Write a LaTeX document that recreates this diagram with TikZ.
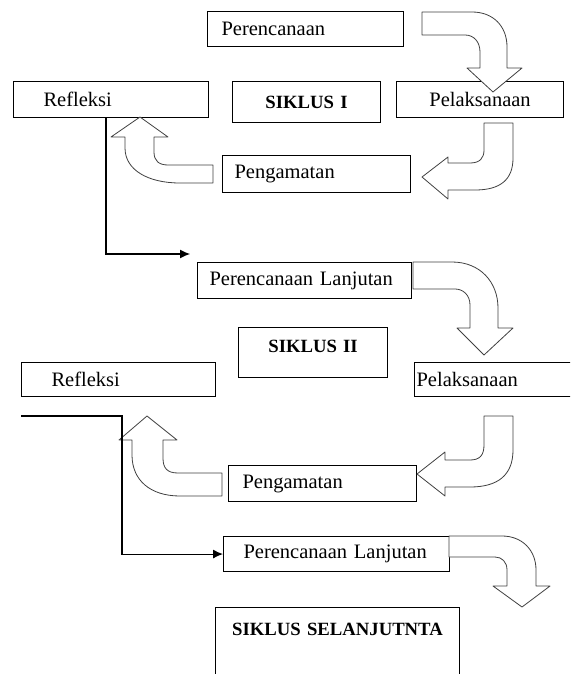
\documentclass[tikz,border=0pt]{standalone}
\usepackage{fontspec}
\setmainfont{Liberation Serif}
\usetikzlibrary{arrows.meta}

\begin{document}
\begin{tikzpicture}[
        x=1pt, y=-1pt, % one unit is one pixel, y runs down the page
        every node/.style={draw, fill=white, anchor=north west, inner ysep=0pt, align=left, font=\fontsize{20.5}{24}\selectfont},
        heading/.style={font=\fontsize{18.7}{22}\selectfont\bfseries, align=center, inner xsep=4pt},
        bend arrow/.style={draw=black!75, fill=white, line width=0.8pt, line join=round},
        line width=1.1pt,
        >={Latex[length=10pt, width=9pt]} % arrowhead style
      ]
      \clip (0,0) rectangle (570,674);

      % Nodes - siklus I
      \node (P1) [minimum width=196, minimum height=35, inner xsep=14pt, text width=168pt] at (207,11) {Perencanaan};
      \node (R1) [minimum width=195, minimum height=36, inner xsep=30pt, text width=135pt] at (13,81) {Refleksi};
      \node (S1) [heading, minimum width=148, minimum height=41, text width=140pt] at (232,81) {SIKLUS I};
      \node (A1) [minimum width=167, minimum height=36, inner xsep=4pt, text width=159pt, align=center] at (396,81) {Pelaksanaan};
      \node (O1) [minimum width=188, minimum height=37, inner xsep=12pt, text width=164pt] at (222,155) {Pengamatan};

      % Nodes - siklus II
      \node (P2) [minimum width=214, minimum height=36, inner xsep=12pt, text width=190pt] at (197,262) {Perencanaan Lanjutan};
      \node (S2) [heading, minimum width=149, text width=141pt, text height=25pt, text depth=25pt] at (238,327) {SIKLUS II};
      \node (R2) [minimum width=194, minimum height=34, inner xsep=30pt, text width=134pt] at (21,362) {Refleksi};
      \node (A2) [minimum width=186, minimum height=34, inner xsep=2pt, text width=182pt] at (414,362) {Pelaksanaan};
      \node (O2) [minimum width=188, minimum height=36, inner xsep=14pt, text width=160pt] at (228,465) {Pengamatan};

      % Nodes - siklus selanjutnya
      \node (P3) [minimum width=226, minimum height=35, inner xsep=20pt, text width=186pt] at (223,536) {Perencanaan Lanjutan};
      \node (S3) [heading, text width=236pt, text height=28pt, text depth=70pt] at (215,607) {SIKLUS SELANJUTNTA};

      % Block arrows
      \draw[bend arrow] (422,12) -- (472,12) .. controls (493,12) and (507,26) .. (507,47) -- (507,68) -- (522,68)
        -- (493,92) -- (467,68) -- (480,68) -- (480,52) .. controls (480,42) and (474,35) .. (465,35) -- (422,35) -- cycle;
      \draw[bend arrow] (484,123) -- (513,123) -- (513,158) .. controls (513,180) and (500,190) .. (475,190) -- (448,190)
        -- (448,199) -- (422,177) -- (448,157) -- (448,163) -- (470,163) .. controls (480,163) and (484,158) .. (484,150) -- cycle;
      \draw[bend arrow] (140,117) -- (168,137) -- (154,137) -- (154,152) .. controls (154,161) and (159,165) .. (168,165)
        -- (213,165) -- (213,183) -- (180,183) .. controls (148,183) and (125,170) .. (125,148) -- (125,137) -- (111,137) -- cycle;
      \draw[bend arrow] (413,262) -- (452,262) .. controls (480,262) and (498,282) .. (498,308) -- (498,328) -- (513,328)
        -- (484,355) -- (457,328) -- (470,328) -- (470,305) .. controls (470,295) and (463,289) .. (455,289) -- (413,289) -- cycle;
      \draw[bend arrow] (484,416) -- (513,416) -- (513,450) .. controls (513,475) and (498,487) .. (470,487) -- (445,487)
        -- (445,496) -- (417,474) -- (445,452) -- (445,460) -- (470,460) .. controls (480,460) and (484,455) .. (484,445) -- cycle;
      \draw[bend arrow] (147,416) -- (177,440) -- (163,440) -- (163,458) .. controls (163,468) and (167,473) .. (178,473)
        -- (222,473) -- (222,496) -- (180,496) .. controls (150,496) and (132,480) .. (132,455) -- (132,440) -- (119,440) -- cycle;
      \draw[bend arrow] (449,536) -- (502,536) .. controls (522,536) and (536,550) .. (536,570) -- (536,586) -- (550,586)
        -- (522,607) -- (493,586) -- (507,586) -- (507,570) .. controls (507,562) and (502,557) .. (495,557) -- (449,557) -- cycle;

      % Arrows
      \coordinate (T1) at (106,254);
      \coordinate (E1) at (190,254);
      \draw[->] (R1.south -| T1) -- (T1) -- (E1);
      \coordinate (F2) at (21,416);
      \coordinate (T2) at (122,416);
      \draw[->] (F2) -- (T2) |- (P3.west);

    \end{tikzpicture}
\end{document}
